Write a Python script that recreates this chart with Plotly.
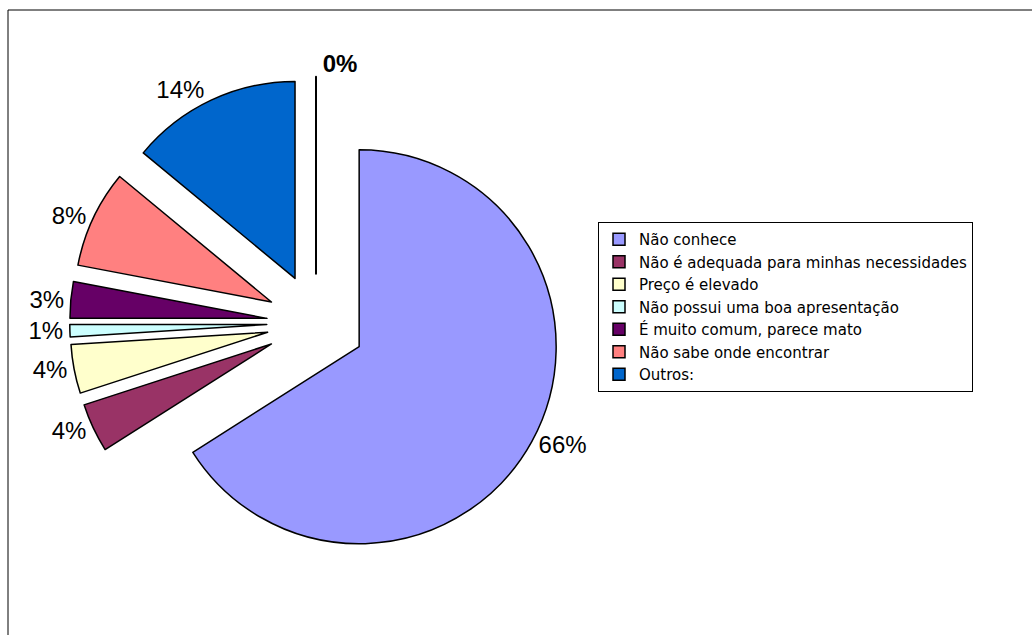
import plotly.graph_objects as go

labels = ["Não conhece", "Não é adequada para minhas necessidades", "Preço é elevado",
          "Não possui uma boa apresentação", "É muito comum, parece mato",
          "Não sabe onde encontrar", "Outros:"]
values = [66, 4, 4, 1, 3, 8, 14]
colors = ["#9999FF", "#993366", "#FFFFCC", "#CCFFFF", "#660066", "#FF8080", "#0066CC"]

# zero-valued extra category drawn at the end (not listed in legend)
zero_label = "zero"
zero_value = 0

W, H = 1032, 635
cx, cy, R, pull = 316, 323, 197, 0.25
half = R * (1 + pull)
domain = dict(x=[(cx - half) / W, (cx + half) / W],
              y=[(H - cy - half) / H, (H - cy + half) / H])
tfont = dict(family="Liberation Sans, Arial", size=24, color="black")

fig = go.Figure()
fig.add_trace(go.Pie(
    labels=labels, values=values, sort=False, direction="clockwise", rotation=0,
    marker=dict(colors=colors, line=dict(color="black", width=1.5)),
    pull=[pull] * len(values),
    textposition="outside", texttemplate="%{percent:.0%}",
    textfont=tfont, domain=domain, hoverinfo="label+percent",
))
# zero slice: same pie geometry, remainder invisible
fig.add_trace(go.Pie(
    labels=[zero_label, "rest"], values=[zero_value, sum(values)], sort=False,
    direction="clockwise", rotation=0,
    marker=dict(colors=["white", "rgba(0,0,0,0)"],
                line=dict(color=["black", "rgba(0,0,0,0)"], width=[2, 0])),
    pull=[pull, pull], textposition="outside",
    texttemplate=["<b>%{percent:.0%}</b>", ""],
    textfont=tfont, domain=domain, showlegend=False, hoverinfo="skip",
))

fig.update_layout(
    width=W, height=H, margin=dict(l=0, r=0, t=0, b=0, autoexpand=False),
    paper_bgcolor="white", plot_bgcolor="white",
    showlegend=True,
    legend=dict(x=598 / W, y=1 - 222 / H, xanchor="left", yanchor="top",
                bordercolor="black", borderwidth=1, bgcolor="white",
                font=dict(family="DejaVu Sans", size=15, color="black"),
                tracegroupgap=0),
    shapes=[dict(type="rect", xref="paper", yref="paper", x0=8 / W, x1=1.01,
                 y0=-0.01, y1=1 - 10 / H, line=dict(color="black", width=1))],
)

fig.write_html("out.html")
